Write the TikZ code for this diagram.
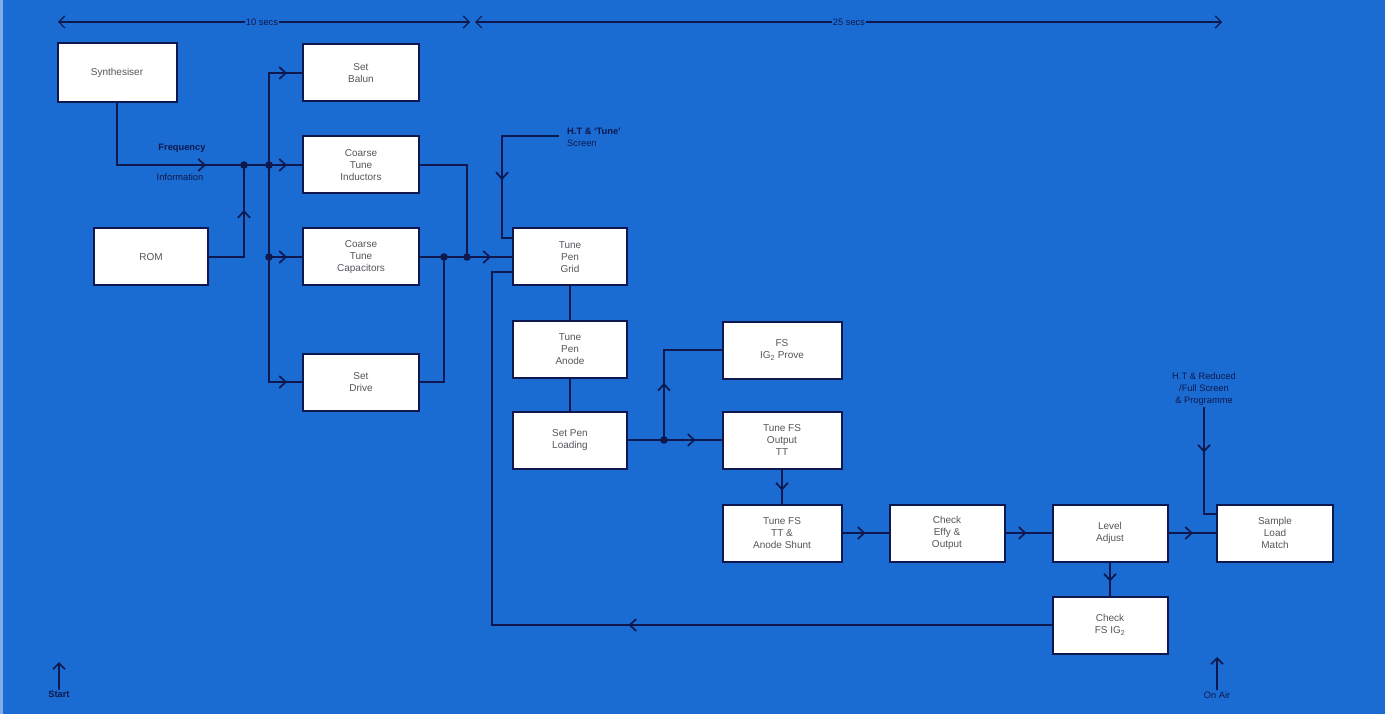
\documentclass[tikz,border=0pt]{standalone}
\usepackage{fontspec}
\setmainfont{Liberation Sans}
\usetikzlibrary{arrows.meta,decorations.markings}

\definecolor{panelblue}{RGB}{27,108,210}
\definecolor{inkblue}{RGB}{14,24,78}
\definecolor{boxtext}{RGB}{85,85,92}

\tikzset{
  fcbox/.style={draw=inkblue, line width=2pt, fill=white, minimum width=116pt, minimum height=57pt,
    inner sep=0pt, align=center, text=boxtext, font=\fontsize{10}{12}\selectfont},
  fcline/.style={draw=inkblue, line width=1.7pt},
  fclabel/.style={text=inkblue, inner sep=1pt, font=\fontsize{9.3}{12}\selectfont},
  fctip/.style={-{Straight Barb[length=6pt,width=12pt]}},
  midarr/.style={postaction={decorate}, decoration={markings,
    mark=at position #1 with {\arrow[inkblue]{Straight Barb[length=6.5pt,width=12pt]}}}}
}

\begin{document}
\begin{tikzpicture}[x=1pt, y=-1pt]
\useasboundingbox (0,0) rectangle (1385,714);
\fill[panelblue] (0,0) rectangle (1385,714);
\fill[white, opacity=0.45] (0,0) rectangle (3,714);

% boxes
\node[fcbox, minimum width=119pt, minimum height=59pt] (synth) at (117,72.5) {Synthesiser};
\node[fcbox, minimum width=114pt] (rom) at (151,257) {ROM};
\node[fcbox] (balun) at (361,73) {Set\\Balun};
\node[fcbox] (induct) at (361,165) {Coarse\\Tune\\Inductors};
\node[fcbox] (capac) at (361,257) {Coarse\\Tune\\Capacitors};
\node[fcbox] (drive) at (361,382) {Set\\Drive};
\node[fcbox, minimum width=114pt] (grid) at (570,257) {Tune\\Pen\\Grid};
\node[fcbox, minimum width=114pt] (anode) at (570,349.5) {Tune\\Pen\\Anode};
\node[fcbox, minimum width=114pt] (loading) at (570,440) {Set Pen\\Loading};
\node[fcbox, minimum width=119pt] (fsig) at (782,350) {FS\\IG\textsubscript{2} Prove};
\node[fcbox, minimum width=119pt] (fsout) at (782,440) {Tune FS\\Output\\TT};
\node[fcbox, minimum width=119pt] (shunt) at (782,533) {Tune FS\\TT \&\\Anode Shunt};
\node[fcbox, minimum width=115pt] (effy) at (947,533) {Check\\Effy \&\\Output};
\node[fcbox, minimum width=115pt] (level) at (1110,533) {Level\\Adjust};
\node[fcbox] (sample) at (1275,533) {Sample\\Load\\Match};
\node[fcbox, minimum width=115pt] (checkfs) at (1110,625) {Check\\FS IG\textsubscript{2}};

% labels
\node[fclabel, font=\bfseries\fontsize{9.3}{12}\selectfont] (freq) at (182,148) {Frequency};
\node[fclabel] (info) at (180,177) {Information};
\node[fclabel, align=left, anchor=west] (htlbl) at (566,137) {\textbf{H.T \& `Tune'}\\Screen};
\node[fclabel, align=center] (hrlbl) at (1204,389) {H.T \& Reduced\\/Full Screen\\\& Programme};
\node[fclabel] (secA) at (262,22) {10 secs};
\node[fclabel] (secB) at (849,22) {25 secs};
\node[fclabel, font=\bfseries\fontsize{9.3}{12}\selectfont] (start) at (59,694) {Start};
\node[fclabel] (onair) at (1217,695) {On Air};

% junctions and corners
\coordinate (j1) at (244,165);
\coordinate (j2) at (269,165);
\coordinate (j3) at (269,257);
\coordinate (j4) at (444,257);
\coordinate (j5) at (467,257);
\coordinate (j6) at (664,440);
\coordinate (htin) at (559,136);
\coordinate (htc) at (502,238);
\coordinate (fb) at (492,272);
\coordinate (hrc) at (1204,514);
\coordinate (t1) at (58,22);
\coordinate (t2) at (470,22);
\coordinate (t3) at (475,22);
\coordinate (t4) at (1222,22);
\coordinate (startup) at (59,662);
\coordinate (onairup) at (1217,657);

% timeline
\draw[fcline, line width=1.2pt, fctip] (secA.west) -- (t1);
\draw[fcline, line width=1.2pt, fctip] (secA.east) -- (t2);
\draw[fcline, line width=1.2pt, fctip] (secB.west) -- (t3);
\draw[fcline, line width=1.2pt, fctip] (secB.east) -- (t4);

% inputs
\draw[fcline, midarr=-38pt] (synth.south) |- (j1);
\draw[fcline, midarr=-45pt] (rom.east) -| (j1);
\draw[fcline] (j1) -- (j2) -- (j3);
\draw[fcline, midarr=-15pt] (j2) |- (balun.west);
\draw[fcline, midarr=-15pt] (j2) -- (induct.west);
\draw[fcline, midarr=-15pt] (j3) -- (capac.west);
\draw[fcline, midarr=-15pt] (j3) |- (drive.west);
\draw[fcline] (induct.east) -| (j5);
\draw[fcline] (capac.east) -- (j4) -- (j5);
\draw[fcline] (drive.east) -| (j4);
\draw[fcline, midarr=-21pt] (j5) -- (grid.west);
\draw[fcline, midarr=101pt] (htin) -| (htc) -- (htc -| grid.west);
\draw[fcline, midarr=423pt] (checkfs.west) -| (fb) -- (fb -| grid.west);

% tuning chain
\draw[fcline] (grid) -- (anode);
\draw[fcline] (anode) -- (loading);
\draw[fcline] (loading.east) -- (j6);
\draw[fcline, midarr=-26pt] (j6) -- (fsout.west);
\draw[fcline, midarr=57pt] (j6) |- (fsig.west);
\draw[fcline, midarr=-13pt] (fsout) -- (shunt);
\draw[fcline, midarr=-23pt] (shunt) -- (effy);
\draw[fcline, midarr=-25pt] (effy) -- (level);
\draw[fcline, midarr=-23pt] (level) -- (sample);
\draw[fcline, midarr=-14pt] (level) -- (checkfs);
\draw[fcline, midarr=46pt] (hrlbl.south) -- (hrc) -- (hrc -| sample.west);

% start / on air
\draw[fcline, fctip] (start.north) -- (startup);
\draw[fcline, fctip] (onair.north) -- (onairup);

\foreach \j in {j1,j2,j3,j4,j5,j6}
  \fill[inkblue] (\j) circle (3.8pt);
\end{tikzpicture}
\end{document}
